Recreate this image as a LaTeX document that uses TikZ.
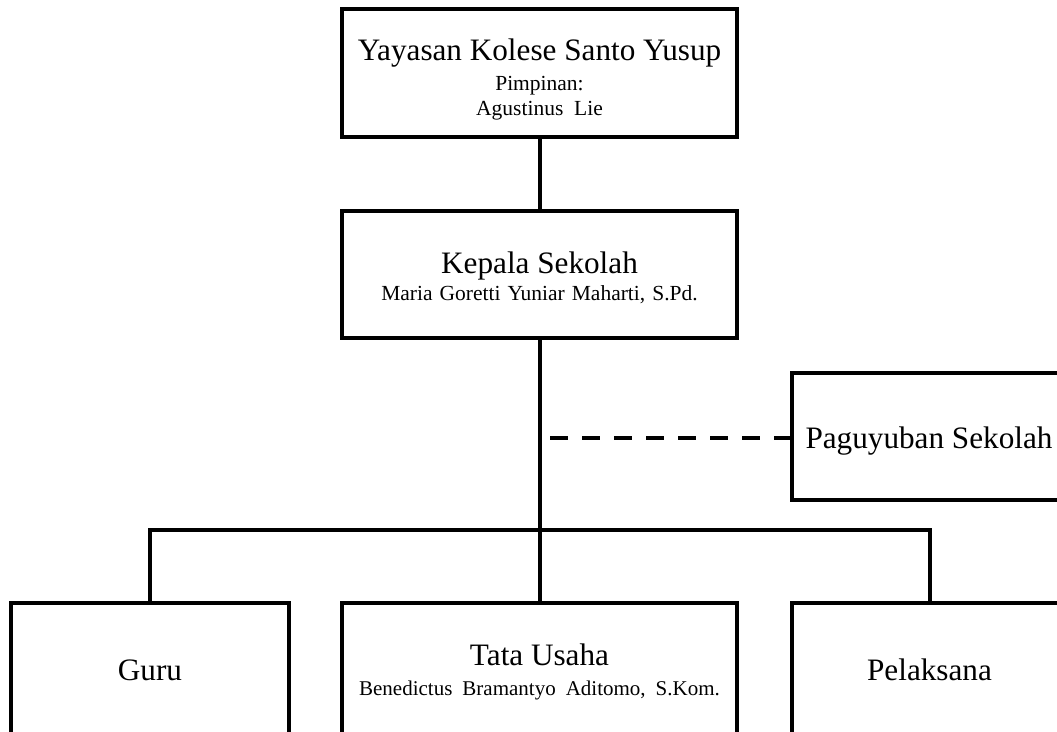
\documentclass[tikz,border=0pt]{standalone}
\usepackage{fontspec}
\setmainfont{Liberation Serif}
\begin{document}
\begin{tikzpicture}[x=1pt,y=-1pt,
  box/.style={draw=black,line width=4pt,fill=white,inner sep=0pt,rectangle},
  link/.style={draw=black,line width=4pt},
  dashlink/.style={draw=black,line width=4pt,dash pattern=on 18pt off 14pt,dash phase=22pt},
  big/.style={font=\fontsize{31.2}{35}\selectfont,anchor=base,inner sep=0pt},
  small/.style={font=\fontsize{21.5}{25}\selectfont,anchor=base,inner sep=0pt}]
\useasboundingbox (0,0) rectangle (1057,731);
\clip (0,0) rectangle (1057,731);
% boxes
\node[box,minimum width=395pt,minimum height=128pt] (top) at (539.5,73) {};
\node[box,minimum width=395pt,minimum height=127pt] (kep) at (539.5,274.5) {};
\node[box,minimum width=276pt,minimum height=127pt] (pag) at (930,436.5) {};
\node[box,minimum width=278pt,minimum height=134pt] (guru) at (150,670) {};
\node[box,minimum width=395pt,minimum height=134pt] (tu) at (539.5,670) {};
\node[box,minimum width=276pt,minimum height=134pt] (pel) at (929.5,670) {};
% texts
\node[big] (t1) at (539.5,60) {Yayasan Kolese Santo Yusup};
\node[small] (t2) at (539.5,90) {Pimpinan:};
\node[small] (t3) at (539.5,115) {Agustinus\ \ Lie};
\node[big] (k1) at (539.5,273) {Kepala Sekolah};
\node[small] (k2) at (539.5,300) {Maria\hspace{7pt}Goretti\hspace{7pt}Yuniar\hspace{7pt}Maharti,\hspace{7pt}S.Pd.};
\node[big] (p1) at (929,448) {Paguyuban Sekolah};
\node[big] (g1) at (150,680) {Guru};
\node[big] (u1) at (539.5,665) {Tata Usaha};
\node[small,font=\fontsize{21}{25}\selectfont] (u2) at (539.5,695) {Benedictus\hspace{10pt}Bramantyo\hspace{10pt}Aditomo,\hspace{10pt}S.Kom.};
\node[big] (l1) at (929.5,680) {Pelaksana};
% connectors
\coordinate (br) at (540,530);
\coordinate (dsh) at (540,438);
\draw[link] (top.south -| br) -- (kep.north -| br);
\draw[link] (kep.south -| br) -- (tu.north -| br);
\draw[link] (guru.north) -- (guru.north |- br) -- (pel.north |- br) -- (pel.north);
\draw[dashlink] (dsh) -- (pag.west |- dsh);
\end{tikzpicture}
\end{document}
